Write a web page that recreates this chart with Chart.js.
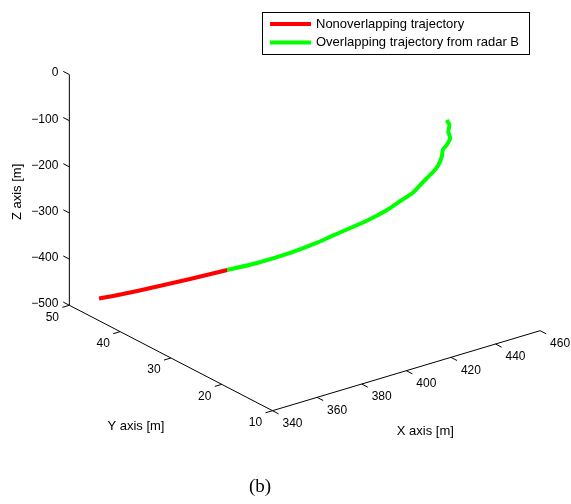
<!DOCTYPE html>
<html>
<head>
<meta charset="utf-8">
<script src="https://cdn.jsdelivr.net/npm/chart.js@4.4.1/dist/chart.umd.min.js"></script>
<style>
  html, body { margin: 0; padding: 0; background: #fff; }
  #wrap { position: relative; width: 571px; height: 504px; }
  #caption { position: absolute; left: 220px; width: 80px; top: 475px; text-align: center;
             font: 19px "Liberation Serif", "Times New Roman", serif; color: #000; }
</style>
</head>
<body>
<div id="wrap">
  <canvas id="chart" width="571" height="504"></canvas>
  <div id="caption">(b)</div>
</div>
<script>
// trajectory points [m]
const xRed = [344.2, 352.7, 364.6, 375.9, 388.0]
const yRed = [46, 45, 43.5, 42, 40]
const zRed = [-468.6, -465.4, -457.6, -449.2, -435.7]

const xGreen = [388.0, 398.0, 409.4, 417.2, 423.0, 433.7, 439.2, 443.2, 446.3, 449.1,
                450.2, 452.0, 453.1, 453.5, 452.8, 453.4, 453.8, 453.0, 452.3, 450.0]
const yGreen = [40, 38.5, 37, 35.5, 34.5, 32.5, 31, 30, 29, 28.5,
                28, 27.5, 27, 26.5, 26, 25.5, 25, 25, 24.5, 24]
const zGreen = [-435.7, -426.5, -412.7, -394.8, -380.1, -351.6, -328.3, -307.8, -289.2, -270.4,
                -258.3, -243.8, -228.0, -207.7, -189.3, -176.6, -159.7, -144.3, -125.9, -108.9]

const seriesNames = ['Nonoverlapping trajectory', 'Overlapping trajectory from radar B']
const xTicks = [340, 360, 380, 400, 420, 440, 460]
const yTicks = [10, 20, 30, 40, 50]
const zTicks = [0, -100, -200, -300, -400, -500]
const xRange = [340, 460]
const yRange = [10, 50]
const zRange = [-500, 0]

// camera, like matlab view(az, el)
const az = -37.2 * Math.PI / 180
const el = 23.2 * Math.PI / 180
const box = 336, boxZ = 251
const corner = [272.5, 410.7]

function project(X, Y, Z) {
    const xn = (X - xRange[0]) / (xRange[1] - xRange[0])
    const yn = (Y - yRange[0]) / (yRange[1] - yRange[0])
    const zn = (Z - zRange[0]) / (zRange[1] - zRange[0])
    const u = box * (Math.cos(az) * xn + Math.sin(az) * yn)
    const v = box * (-Math.sin(el) * Math.sin(az) * xn + Math.sin(el) * Math.cos(az) * yn) + boxZ * Math.cos(el) * zn
    return { x: corner[0] + u, y: corner[1] - v }
}

const redPts = xRed.map((x, i) => project(x, yRed[i], zRed[i]))
const greenPts = xGreen.map((x, i) => project(x, yGreen[i], zGreen[i]))

const font = '"Liberation Sans", Arial, Helvetica, sans-serif'

function pix(chart, p) {
    return [chart.scales.x.getPixelForValue(p.x), chart.scales.y.getPixelForValue(p.y)]
}

const axes3d = {
    id: 'axes3d',
    beforeDatasetsDraw(chart) {
        const ctx = chart.ctx
        const [x0, x1] = xRange, [y0, y1] = yRange, [z0, z1] = zRange
        ctx.save()
        ctx.strokeStyle = '#000'
        ctx.lineWidth = 1
        ctx.fillStyle = '#000'

        const seg = (a, b) => {
            const p = pix(chart, a), q = pix(chart, b)
            ctx.beginPath(); ctx.moveTo(p[0], p[1]); ctx.lineTo(q[0], q[1]); ctx.stroke()
        }
        // axis lines
        seg(project(x0, y1, z0), project(x0, y1, z1))
        seg(project(x0, y0, z0), project(x0, y1, z0))
        seg(project(x0, y0, z0), project(x1, y0, z0))

        // ticks go outward along the other axes
        const tickX = (x1 - x0) * 0.026, tickY = (y1 - y0) * 0.03
        ctx.font = '12px ' + font
        ctx.textBaseline = 'middle'

        zTicks.forEach(z => {
            seg(project(x0, y1, z), project(x0, y1 + tickY, z))
            const p = pix(chart, project(x0, y1, z))
            ctx.textAlign = 'right'
            ctx.fillText(String(z).replace('-', '\u2212'), p[0] - 11, p[1] - 1.5)
        })
        yTicks.forEach(y => {
            seg(project(x0, y, z0), project(x0 - tickX, y, z0))
            const p = pix(chart, project(x0, y, z0))
            ctx.textAlign = 'center'
            ctx.fillText(String(y), p[0] - 17, p[1] + 12)
        })
        xTicks.forEach(x => {
            seg(project(x, y0, z0), project(x, y0 - tickY, z0))
            const p = pix(chart, project(x, y0, z0))
            ctx.textAlign = 'center'
            ctx.fillText(String(x), p[0] + 20, p[1] + 13)
        })

        // axis titles
        ctx.font = '13px ' + font
        ctx.textAlign = 'center'
        let p = pix(chart, project((x0 + x1) / 2, y0, z0))
        ctx.fillText('X axis [m]', p[0] + 19, p[1] + 61)
        p = pix(chart, project(x0, (y0 + y1) / 2, z0))
        ctx.fillText('Y axis [m]', p[0] - 35, p[1] + 68)
        p = pix(chart, project(x0, y1, (z0 + z1) / 2))
        ctx.save()
        ctx.translate(p[0] - 51.5, p[1] + 2)
        ctx.rotate(-Math.PI / 2)
        ctx.fillText('Z axis [m]', 0, 0)
        ctx.restore()
        ctx.restore()
    },
    afterDraw(chart) {
        // legend box, top right
        const ctx = chart.ctx
        ctx.save()
        ctx.fillStyle = '#fff'
        ctx.fillRect(262.5, 12.5, 267, 42)
        ctx.strokeStyle = '#000'
        ctx.lineWidth = 1
        ctx.strokeRect(262.5, 12.5, 267, 42)
        ctx.font = '13px ' + font
        ctx.textAlign = 'left'
        ctx.textBaseline = 'middle'
        chart.data.datasets.forEach((ds, i) => {
            const y = 24 + i * 18.5
            ctx.strokeStyle = ds.borderColor
            ctx.lineWidth = 4
            ctx.beginPath(); ctx.moveTo(270, y); ctx.lineTo(311, y); ctx.stroke()
            ctx.fillStyle = '#000'
            ctx.fillText(ds.label, 316, y)
        })
        ctx.restore()
    }
}

new Chart(document.getElementById('chart'), {
    type: 'scatter',
    data: {
        datasets: [
            { label: seriesNames[0], data: redPts, borderColor: '#ff0000', showLine: true },
            { label: seriesNames[1], data: greenPts, borderColor: '#00ff00', showLine: true }
        ]
    },
    options: {
        responsive: false,
        animation: false,
        layout: { padding: 0 },
        elements: {
            point: { radius: 0 },
            line: { borderWidth: 4, tension: 0.25, borderJoinStyle: 'round', fill: false }
        },
        scales: {
            x: { type: 'linear', min: 0, max: 571, display: false },
            y: { type: 'linear', min: 0, max: 504, reverse: true, display: false }
        },
        plugins: { legend: { display: false }, tooltip: { enabled: false } }
    },
    plugins: [axes3d]
})
</script>
</body>
</html>
